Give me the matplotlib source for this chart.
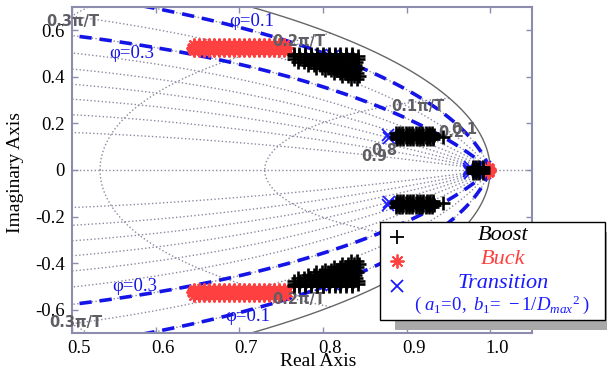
import numpy as np
import matplotlib
matplotlib.use("Agg")
import matplotlib.pyplot as plt
import matplotlib.transforms as mtransforms
from matplotlib.lines import Line2D
from matplotlib.patches import Rectangle

plt.rcParams['font.family'] = ['Liberation Serif', 'DejaVu Serif']
plt.rcParams['mathtext.fontset'] = 'custom'
plt.rcParams['mathtext.rm'] = 'Liberation Serif'
plt.rcParams['mathtext.it'] = 'Liberation Serif:italic'

# ---------------- data: upper-half poles (their conjugates are drawn too) ----------------
# Boost, upper blob: one list of real parts per imaginary level
boost_blob_im = [0.500, 0.488, 0.476, 0.464, 0.452, 0.440, 0.428, 0.416, 0.404, 0.392]
boost_blob_re = [
    [0.765, 0.772, 0.779, 0.786, 0.793, 0.800, 0.807, 0.814, 0.821, 0.828, 0.835],
    [0.765, 0.772, 0.779, 0.786, 0.793, 0.800, 0.807, 0.814, 0.821, 0.828, 0.835, 0.842],
    [0.766, 0.773, 0.780, 0.787, 0.794, 0.801, 0.808, 0.815, 0.822, 0.829, 0.836, 0.842],
    [0.770, 0.777, 0.784, 0.791, 0.798, 0.805, 0.812, 0.819, 0.826, 0.833, 0.840],
    [0.782, 0.789, 0.796, 0.803, 0.810, 0.817, 0.824, 0.831, 0.838],
    [0.792, 0.799, 0.806, 0.813, 0.820, 0.827, 0.834, 0.841],
    [0.803, 0.810, 0.817, 0.824, 0.831, 0.838],
    [0.813, 0.820, 0.827, 0.834, 0.841],
    [0.823, 0.830, 0.837, 0.843],
    [0.834, 0.841],
]
# Boost, middle band
boost_band_im = [0.158, 0.150, 0.142, 0.134]
boost_band_re = [
    [0.887, 0.891, 0.895, 0.899, 0.903, 0.907, 0.911, 0.915, 0.919, 0.923, 0.927, 0.931],
    [0.888, 0.892, 0.896, 0.900, 0.904, 0.908, 0.912, 0.916, 0.920, 0.924, 0.928, 0.933],
    [0.887, 0.891, 0.895, 0.899, 0.903, 0.907, 0.911, 0.915, 0.919, 0.923, 0.927, 0.932, 0.944],
    [0.888, 0.892, 0.896, 0.900, 0.904, 0.908, 0.912, 0.916, 0.920, 0.924, 0.928, 0.932],
]
# Boost, near z = 1
boost_near1_re = [0.979, 0.979, 0.983, 0.983, 0.987, 0.987, 0.991, 0.991]
boost_near1_im = [0.004, 0.013, 0.004, 0.013, 0.004, 0.013, 0.004, 0.013]

# Buck, upper band
buck_band_im = [0.536, 0.526, 0.516]
buck_band_re = [
    [0.646, 0.652, 0.658, 0.664, 0.670, 0.676, 0.682, 0.688, 0.694, 0.700,
     0.706, 0.712, 0.718, 0.724, 0.730, 0.736, 0.742, 0.748, 0.754],
    [0.645, 0.651, 0.657, 0.663, 0.669, 0.675, 0.681, 0.687, 0.693, 0.699,
     0.705, 0.711, 0.717, 0.723, 0.729, 0.735, 0.741, 0.747, 0.753, 0.757],
    [0.646, 0.652, 0.658, 0.664, 0.670, 0.676, 0.682, 0.688, 0.694, 0.700,
     0.706, 0.712, 0.718, 0.724, 0.730, 0.736, 0.742, 0.748, 0.754],
]
buck_near1_re = [0.997, 0.999]
buck_near1_im = [0.008, 0.003]

trans_re = [0.798, 0.812, 0.826, 0.878, 0.879, 0.975, 0.976, 0.993, 0.994]
trans_im = [0.495, 0.488, 0.478, 0.150, 0.138, 0.004, 0.015, 0.004, 0.014]

series_names = ['Boost', 'Buck', 'Transition']

# z-grid parameters
grid_zeta = [0.1, 0.2, 0.3, 0.4, 0.5, 0.6, 0.7, 0.8, 0.9]
grid_wn = [0.1, 0.2, 0.3, 0.4, 0.5, 0.6, 0.7, 0.8, 0.9, 1.0]   # x pi/T
marked_zeta = [0.1, 0.3]


def collect(rows_re, rows_im):
    xs, ys = [], []
    for im, res in zip(rows_im, rows_re):
        for re in res:
            xs.append(re)
            ys.append(im)
    return xs, ys


bx1, by1 = collect(boost_blob_re, boost_blob_im)
bx2, by2 = collect(boost_band_re, boost_band_im)
boost_re = bx1 + bx2 + boost_near1_re
boost_im = by1 + by2 + boost_near1_im
kx, ky = collect(buck_band_re, buck_band_im)
buck_re = kx + buck_near1_re
buck_im = ky + buck_near1_im

W, H = 607, 374
fig = plt.figure(figsize=(W / 100, H / 100), dpi=100)
ax = fig.add_axes([72 / W, 41 / H, 460 / W, 326 / H])
ax.set_xlim(0.5, 1.05)
ax.set_ylim(-0.7, 0.7)

GRID_C = '#8a8aa2'
th = np.linspace(0, np.pi, 800)
for z in grid_zeta:
    r = np.exp(-z / np.sqrt(1 - z * z) * th)
    ax.plot(r * np.cos(th), r * np.sin(th), ls=':', color=GRID_C, lw=1.0, zorder=1)
    ax.plot(r * np.cos(th), -r * np.sin(th), ls=':', color=GRID_C, lw=1.0, zorder=1)
zz = np.linspace(0, 1, 400)
for w in grid_wn:
    wn = w * np.pi
    r = np.exp(-zz * wn)
    a = wn * np.sqrt(1 - zz ** 2)
    ax.plot(r * np.cos(a), r * np.sin(a), ls=':', color=GRID_C, lw=1.0, zorder=1)
    ax.plot(r * np.cos(a), -r * np.sin(a), ls=':', color=GRID_C, lw=1.0, zorder=1)
ax.axhline(0, ls=':', color=GRID_C, lw=1.0, zorder=1)
tc = np.linspace(0, 2 * np.pi, 1000)
ax.plot(np.cos(tc), np.sin(tc), '-', color='#666666', lw=1.0, zorder=1.5)

for z in marked_zeta:
    r = np.exp(-z / np.sqrt(1 - z * z) * th)
    for s in (1, -1):
        ax.plot(r * np.cos(th), s * r * np.sin(th), color='#1414e6', lw=2.6,
                dashes=(3.4, 2.2), zorder=2)

# poles
ax.plot(trans_re + trans_re, trans_im + [-v for v in trans_im], 'x', color='#1a1aff',
        ms=8, mew=1.3, ls='none', zorder=3)
ax.plot(buck_re + buck_re, buck_im + [-v for v in buck_im], ls='none',
        marker=(8, 2, 0), color='#ff4040', ms=10, mew=1.5, zorder=4)
ax.plot(boost_re + boost_re, boost_im + [-v for v in boost_im], '+', color='black',
        ms=10.5, mew=1.9, ls='none', zorder=6)

# grid labels
LBL = dict(color='#5e5e64', fontsize=10.5, family='DejaVu Sans', fontweight='bold',
           ha='center', va='center', zorder=5)
ax.text(0.501, 0.636, '0.3π/T', clip_on=False, **LBL)
ax.text(0.505, -0.657, '0.3π/T', clip_on=False, **LBL)
ax.text(0.771, 0.552, '0.2π/T', **LBL)
ax.text(0.771, -0.556, '0.2π/T', **LBL)
ax.text(0.914, 0.271, '0.1π/T', **LBL)
ax.text(0.954, 0.159, '0.2', **LBL)
ax.text(0.969, 0.176, '0.1', **LBL)
ax.text(0.861, 0.060, '0.9', **LBL)
ax.text(0.873, 0.082, '0.8', **LBL)

PHI = dict(color='#1414e6', fontsize=13.5, ha='center', va='center', zorder=5)
ax.text(0.7155, 0.636, 'φ=0.1', **PHI)
ax.text(0.571, 0.502, 'φ=0.3', **PHI)
ax.text(0.575, -0.502, 'φ=0.3', **PHI)
ax.text(0.710, -0.627, 'φ=0.1', **PHI)

SP = '#8c8cae'
for s in ax.spines.values():
    s.set_color(SP)
    s.set_linewidth(1.5)
ax.set_xticks([0.5, 0.6, 0.7, 0.8, 0.9, 1.0])
ax.set_xticklabels(['0.5', '0.6', '0.7', '0.8', '0.9', '1.0'])
ax.set_yticks([-0.6, -0.4, -0.2, 0, 0.2, 0.4, 0.6])
ax.set_yticklabels(['-0.6', '-0.4', '-0.2', '0', '0.2', '0.4', '0.6'])
ax.tick_params(direction='in', length=4, width=1.0, color=SP, labelsize=13.5,
               top=True, right=True, pad=5)
shift = mtransforms.ScaledTranslation(7 / 100, 0, fig.dpi_scale_trans)
for lab in ax.get_xticklabels():
    lab.set_transform(lab.get_transform() + shift)

fig.text(318 / W, 1 - 361 / H, 'Real Axis', ha='center', va='center', fontsize=14)
fig.text(16 / W, 1 - 172 / H, 'Imaginary Axis', ha='center', va='center',
         fontsize=14, rotation=90)


def fx(x):
    return x / W


def fy(y):
    return 1 - y / H


fig.add_artist(Rectangle((fx(395), fy(330)), fx(607) - fx(395), fy(232) - fy(330),
                         transform=fig.transFigure, facecolor='#a9a9a9',
                         edgecolor='none', zorder=10))
fig.add_artist(Rectangle((fx(380), fy(320)), fx(605) - fx(380), fy(222) - fy(320),
                         transform=fig.transFigure, facecolor='white',
                         edgecolor='black', lw=1.0, zorder=11))
fig.add_artist(Line2D([fx(397)], [fy(237)], marker='+', color='black', ms=10, mew=1.3,
                      transform=fig.transFigure, zorder=12))
fig.add_artist(Line2D([fx(397)], [fy(261)], marker=(8, 2, 0), color='#ff4040', ms=10,
                      mew=1.3, transform=fig.transFigure, zorder=12))
fig.add_artist(Line2D([fx(397)], [fy(286)], marker='x', color='#1a1aff', ms=8, mew=1.3,
                      transform=fig.transFigure, zorder=12))
LEG = dict(ha='center', va='center', fontsize=16, style='italic', zorder=12)
fig.text(fx(503), fy(236), series_names[0], color='black', **LEG)
fig.text(fx(503), fy(260), series_names[1], color='#ff4040', **LEG)
fig.text(fx(503), fy(283), series_names[2], color='#1a1aff', **LEG)
fig.text(fx(502), fy(305), r'$\mathit{(\;a_1\!=\!0,\ b_1\!=\,-1/D_{max}{}^{2}\;)}$',
         color='#1a1aff', ha='center', va='center', fontsize=13.5, zorder=12)

fig.savefig('out.png', dpi=100)
